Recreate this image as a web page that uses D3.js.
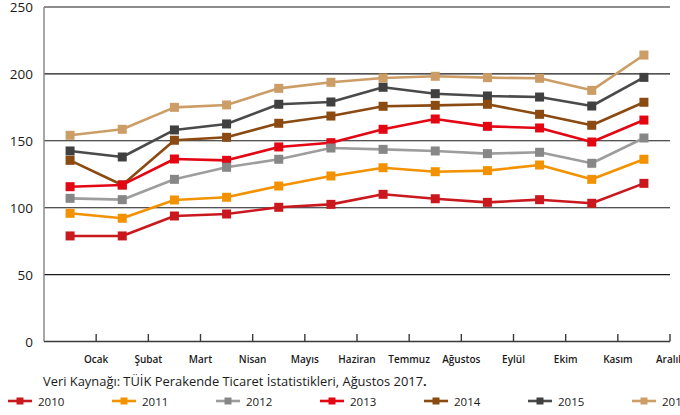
<!DOCTYPE html>
<html>
<head>
<meta charset="utf-8">
<script src="https://cdn.jsdelivr.net/npm/d3@7"></script>
<style>
  html, body { margin: 0; padding: 0; background: #fff; }
  svg { display: block; font-family: "Open Sans", "Lato", sans-serif; }
</style>
</head>
<body>
<svg id="chart" width="680" height="415"></svg>
<script>
// Monthly retail index by year
const months = ["Ocak", "Şubat", "Mart", "Nisan", "Mayıs", "Haziran", "Temmuz", "Ağustos", "Eylül", "Ekim", "Kasım", "Aralık"];
const years = ["2010", "2011", "2012", "2013", "2014", "2015", "2016"];
const yTicks = [0, 50, 100, 150, 200, 250];

const v2010 = [78.9, 78.9, 93.8, 95.3, 100.3, 102.5, 110.0, 106.7, 104.0, 106.0, 103.3, 118.2];
const v2011 = [95.8, 92.1, 105.8, 107.8, 116.2, 123.7, 129.9, 126.9, 127.7, 131.9, 121.2, 136.2];
const v2012 = [107.0, 106.0, 121.2, 130.2, 136.2, 144.6, 143.6, 142.4, 140.4, 141.4, 133.2, 152.1];
const v2013 = [115.7, 117.0, 136.4, 135.4, 145.4, 148.6, 158.6, 166.3, 160.8, 159.6, 149.1, 165.5];
const v2014 = [135.4, 117.0, 150.4, 152.6, 163.1, 168.5, 175.8, 176.5, 177.3, 169.8, 161.6, 178.8];
const v2015 = [142.4, 137.9, 158.1, 162.6, 177.3, 179.0, 190.0, 185.2, 183.5, 182.7, 176.0, 197.4];
const v2016 = [154.1, 158.6, 175.0, 176.8, 189.2, 193.7, 196.9, 198.2, 197.2, 196.7, 187.7, 214.1];

const sourceNote = "Veri Kaynağı: TÜİK Perakende Ticaret İstatistikleri, Ağustos 2017";

const seriesValues = [v2010, v2011, v2012, v2013, v2014, v2015, v2016];
const lineColors = ["#c9191f", "#f39200", "#9d9d9d", "#e30613", "#8a4a12", "#4a4a4a", "#cc9d66"];
const markColors = ["#c9191f", "#f39200", "#878787", "#e30613", "#8a4a12", "#404040", "#cc9d66"];

const series = years.map((y, i) => ({
  name: y,
  line: lineColors[i],
  mark: markColors[i],
  values: seriesValues[i].map((v, j) => ({ month: months[j], value: v }))
}));

const svg = d3.select("#chart");
const plotLeft = 44, plotRight = 670, plotTop = 7, plotBottom = 341.5;

const x = d3.scaleBand().domain(months).range([plotLeft, plotRight]);
const y = d3.scaleLinear().domain([0, 250]).range([plotBottom, plotTop]);

// horizontal gridlines
svg.append("g")
  .selectAll("line")
  .data(yTicks.filter(t => t > 0))
  .join("line")
  .attr("x1", plotLeft).attr("x2", plotRight)
  .attr("y1", d => y(d)).attr("y2", d => y(d))
  .attr("stroke", "#1a1a1a").attr("stroke-width", 1.1);

// y axis line
svg.append("line")
  .attr("x1", plotLeft).attr("x2", plotLeft)
  .attr("y1", y(250)).attr("y2", plotBottom)
  .attr("stroke", "#8a8a8a").attr("stroke-width", 1.5);

// baseline
svg.append("line")
  .attr("x1", plotLeft).attr("x2", plotRight)
  .attr("y1", plotBottom).attr("y2", plotBottom)
  .attr("stroke", "#3a3a3a").attr("stroke-width", 1.6);

// y tick labels
const yAxis = d3.axisLeft(y).tickValues(yTicks).tickSize(0).tickPadding(11);
svg.append("g")
  .attr("transform", `translate(${plotLeft},0.5)`)
  .call(yAxis)
  .call(g => g.select(".domain").remove())
  .call(g => g.selectAll("text")
    .attr("font-family", "'Open Sans', sans-serif")
    .attr("font-size", 13.5)
    .attr("fill", "#1a1a1a"));

// x tick marks at band edges
const edges = months.map(m => x(m) + x.bandwidth());
svg.append("g")
  .selectAll("line")
  .data(edges)
  .join("line")
  .attr("x1", d => d).attr("x2", d => d)
  .attr("y1", plotBottom - 7.5).attr("y2", plotBottom)
  .attr("stroke", "#3a3a3a").attr("stroke-width", 1.4);

// month labels, placed under each band's right edge
svg.append("g")
  .selectAll("text")
  .data(months)
  .join("text")
  .attr("x", m => x(m) + x.bandwidth())
  .attr("y", 363)
  .attr("text-anchor", "middle")
  .attr("font-size", 10)
  .attr("font-weight", 600)
  .attr("fill", "#1a1a1a")
  .text(m => m);

// series lines and markers
const line = d3.line()
  .x(d => x(d.month) + x.bandwidth() / 2)
  .y(d => y(d.value));

const drawOrder = series.slice().reverse();
const gSeries = svg.append("g");
drawOrder.forEach(s => {
  const g = gSeries.append("g");
  g.append("path")
    .datum(s.values)
    .attr("d", line)
    .attr("fill", "none")
    .attr("stroke", s.line)
    .attr("stroke-width", 2.6)
    .attr("stroke-linejoin", "round");
  g.selectAll("rect")
    .data(s.values)
    .join("rect")
    .attr("x", d => x(d.month) + x.bandwidth() / 2 - 4.5)
    .attr("y", d => y(d.value) - 4.5)
    .attr("width", 9).attr("height", 9)
    .attr("fill", s.mark);
});

// source note
svg.append("text")
  .attr("x", 43).attr("y", 386)
  .attr("font-size", 12.9)
  .attr("fill", "#1a1a1a")
  .text(sourceNote)
  .append("tspan")
  .attr("font-weight", 700)
  .text(".");

// legend
const legend = svg.append("g")
  .selectAll("g")
  .data(series)
  .join("g")
  .attr("transform", (d, i) => `translate(${8 + i * 104},401)`);
legend.append("line")
  .attr("x1", 0).attr("x2", 24)
  .attr("stroke", d => d.line).attr("stroke-width", 2.6);
legend.append("rect")
  .attr("x", 8.5).attr("y", -3.5).attr("width", 7).attr("height", 7)
  .attr("fill", d => d.mark);
legend.append("text")
  .attr("x", 30).attr("y", 4.5)
  .attr("font-size", 11.5)
  .attr("fill", "#1a1a1a")
  .text(d => d.name);
</script>
</body>
</html>
